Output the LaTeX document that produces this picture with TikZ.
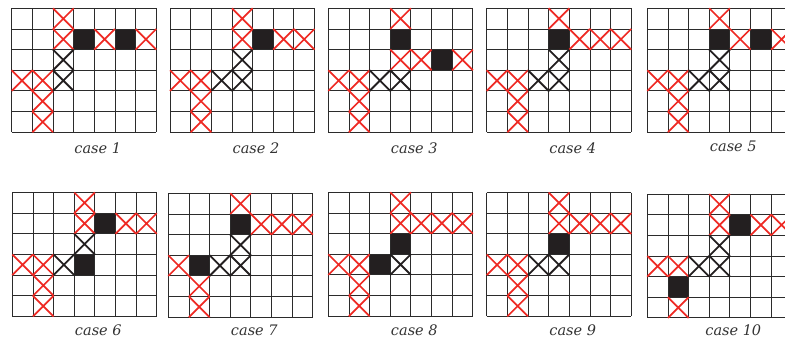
\documentclass[tikz,border=0pt]{standalone}
\usepackage{fontspec}
\usepackage{tikz}
\newfontfamily\labelfont{DejaVu Serif}
\definecolor{crossred}{HTML}{EE2A24}
\definecolor{cellblack}{HTML}{231F20}
\definecolor{gridgray}{HTML}{2B2B2B}

\newcommand{\cw}{20.65}
% #1,#2 top left corner, #3 filled cells, #4 red crosses, #5 black crosses, #6 case number, #7 label baseline
\newcommand{\casegrid}[7]{%
  \begin{scope}[shift={(#1,#2)}]
    \foreach \c/\r in {#3} \fill[cellfill] (\c*\cw,\r*\cw) rectangle ++(\cw,\cw);
    \foreach \i in {0,...,7} \draw[gridline] (\i*\cw,0) -- (\i*\cw,6*\cw);
    \foreach \j in {0,...,6} \draw[gridline] (0,\j*\cw) -- (7*\cw,\j*\cw);
    \foreach \c/\r in {#4} \draw[redcross] (\c*\cw,\r*\cw) -- ++(\cw,\cw) (\c*\cw+\cw,\r*\cw) -- ++(-\cw,\cw);
    \foreach \c/\r in {#5} \draw[blackcross] (\c*\cw,\r*\cw) -- ++(\cw,\cw) (\c*\cw+\cw,\r*\cw) -- ++(-\cw,\cw);
    \node[caselabel] (case#6) at (86,#7) {case #6};
  \end{scope}}

\begin{document}
\begin{tikzpicture}[x=1pt, y=-1pt,
    cellfill/.style={fill=cellblack},
    gridline/.style={draw=gridgray, line width=0.9pt},
    redcross/.style={draw=crossred, line width=1.7pt},
    blackcross/.style={draw=cellblack, line width=1.8pt},
    caselabel/.style={anchor=base, inner sep=0pt, font=\labelfont\fontsize{14.5}{17}\selectfont\itshape, text=black!80}]
  \useasboundingbox (0,0) rectangle (785,341);
  % top row
  \casegrid{11.7}{8.3}{3/1,5/1}{2/0,2/1,4/1,6/1,0/3,1/3,1/4,1/5}{2/2,2/3}{1}{145.5}
  \casegrid{170}{8.3}{4/1}{3/0,3/1,5/1,6/1,0/3,1/3,1/4,1/5}{3/2,2/3,3/3}{2}{145.5}
  \casegrid{328.3}{8.3}{3/1,5/2}{3/0,3/2,4/2,6/2,0/3,1/3,1/4,1/5}{2/3,3/3}{3}{145.5}
  \casegrid{486.7}{8.3}{3/1}{3/0,4/1,5/1,6/1,0/3,1/3,1/4,1/5}{3/2,2/3,3/3}{4}{145.5}
  \casegrid{647.3}{8.3}{3/1,5/1}{3/0,4/1,6/1,0/3,1/3,1/4,1/5}{3/2,2/3,3/3}{5}{143}
  % bottom row
  \casegrid{12.3}{192.5}{4/1,3/3}{3/0,3/1,5/1,6/1,0/3,1/3,1/4,1/5}{3/2,2/3}{6}{142.5}
  \casegrid{168.3}{193.3}{3/1,1/3}{3/0,4/1,5/1,6/1,0/3,1/4,1/5}{3/2,2/3,3/3}{7}{141.7}
  \casegrid{328.3}{192.3}{3/2,2/3}{3/0,3/1,4/1,5/1,6/1,0/3,1/3,1/4,1/5}{3/3}{8}{142.7}
  \casegrid{486.7}{192.5}{3/2}{3/0,3/1,4/1,5/1,6/1,0/3,1/3,1/4,1/5}{2/3,3/3}{9}{142.5}
  \casegrid{647.3}{194}{4/1,1/4}{3/0,3/1,5/1,6/1,0/3,1/3,1/5}{3/2,2/3,3/3}{10}{141}
\end{tikzpicture}
\end{document}
